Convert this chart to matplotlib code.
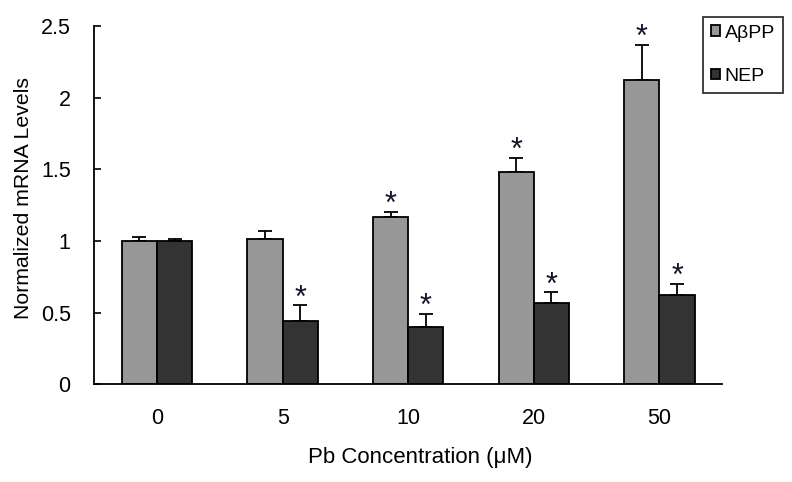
import numpy as np
import matplotlib.pyplot as plt

# data
conc = ['0', '5', '10', '20', '50']
abpp = [1.00, 1.01, 1.17, 1.48, 2.12]
abpp_err = [0.03, 0.06, 0.03, 0.10, 0.25]
nep = [1.00, 0.44, 0.40, 0.57, 0.62]
nep_err = [0.01, 0.11, 0.09, 0.07, 0.08]
abpp_sig = [False, False, True, True, True]
nep_sig = [False, True, True, True, True]

plt.rcParams['font.family'] = ['Liberation Sans', 'DejaVu Sans']

fig = plt.figure(figsize=(7.92, 4.82), dpi=100)
ax = fig.add_axes([0.119, 0.203, 0.793, 0.743])

x = np.arange(len(conc))
w = 0.28
err_kw = dict(ecolor='black', capsize=5, elinewidth=1.3, capthick=1.3)

b1 = ax.bar(x - w / 2, abpp, w, color='#979797', edgecolor='black', linewidth=1.3,
            label='AβPP', zorder=2)
b2 = ax.bar(x + w / 2, nep, w, color='#333333', edgecolor='black', linewidth=1.3,
            label='NEP', zorder=2)
# error bars only upward
ax.errorbar(x - w / 2, abpp, yerr=[np.zeros(len(x)), abpp_err], fmt='none', zorder=1, **err_kw)
ax.errorbar(x + w / 2, nep, yerr=[np.zeros(len(x)), nep_err], fmt='none', zorder=1, **err_kw)

# significance stars, a little above the error cap
def star(xp, yp):
    ax.annotate('*', (xp, yp), xytext=(0, 5), textcoords='offset points',
                ha='center', va='center', fontsize=22, color='#141428')

for i in range(len(x)):
    if abpp_sig[i]:
        star(x[i] - w / 2, abpp[i] + abpp_err[i])
    if nep_sig[i]:
        star(x[i] + w / 2, nep[i] + nep_err[i])

ax.set_xlim(-0.5, 4.5)
ax.set_ylim(0, 2.5)
ax.set_yticks([0, 0.5, 1, 1.5, 2, 2.5])
ax.set_yticklabels(['0', '0.5', '1', '1.5', '2', '2.5'])
ax.set_xticks(x)
ax.set_xticklabels(conc)
ax.tick_params(axis='y', direction='in', length=5, width=1.2, labelsize=15.5, pad=17)
ax.tick_params(axis='x', length=0, labelsize=15.5, pad=17)
ax.spines['top'].set_visible(False)
ax.spines['right'].set_visible(False)
ax.spines['left'].set_linewidth(1.3)
ax.spines['bottom'].set_linewidth(1.3)

ax.set_xlabel('Pb Concentration (μM)', fontsize=16)
ax.xaxis.set_label_coords(0.519, -0.175)
ax.set_ylabel('Normalized mRNA Levels', fontsize=15.3)
ax.yaxis.set_label_coords(-0.097, 0.52)

leg = fig.legend(handles=[b1, b2], loc='upper left', bbox_to_anchor=(0.888, 0.965),
                 fontsize=14, frameon=True, fancybox=False, edgecolor='black',
                 handlelength=0.45, handleheight=0.45, handletextpad=0.25,
                 labelspacing=1.35, borderpad=0.4, borderaxespad=0)
leg.get_frame().set_linewidth(1.3)

fig.savefig('out.png', dpi=100)
